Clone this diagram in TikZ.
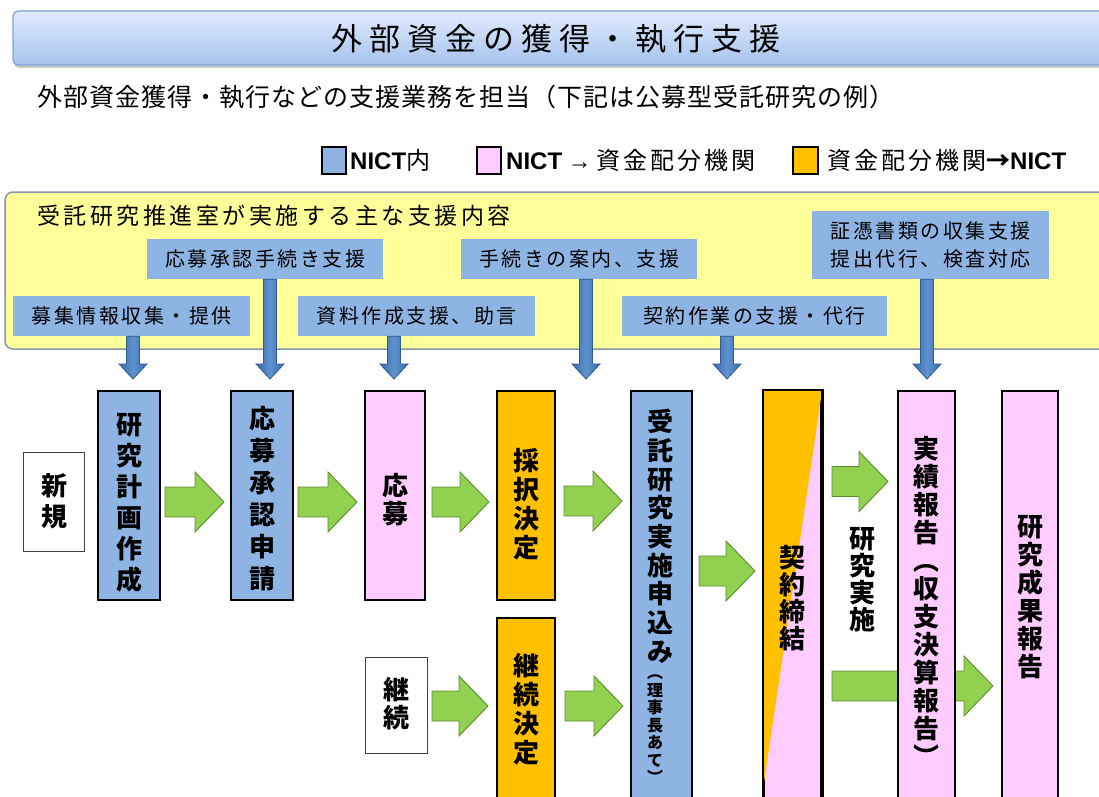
\documentclass[tikz,border=0pt]{standalone}
\usepackage{fontspec}
\setmainfont{Noto Sans CJK JP}
\newfontfamily\arialf{Liberation Sans}
\usetikzlibrary{calc,shadows}
\ExplSyntaxOn
\NewDocumentCommand{\spc}{mm}{\tl_map_inline:nn {#2}{##1\hskip #1\relax}\unskip}
\ExplSyntaxOff
\definecolor{nblue}{HTML}{8EB4E3}
\definecolor{npink}{HTML}{FFCCFF}
\definecolor{norange}{HTML}{FFC000}
\definecolor{nyellow}{HTML}{FFFF99}
\definecolor{ngreen}{HTML}{92D050}
\definecolor{ngreenline}{HTML}{5E8C31}
\definecolor{arrbluedark}{HTML}{3A6AA6}
\definecolor{arrblueedge}{HTML}{2F5C8F}
\definecolor{arrbluelight}{HTML}{5F92D2}
\definecolor{paneledge}{HTML}{8497B0}
\definecolor{titletop}{HTML}{E1ECFB}
\definecolor{titlebot}{HTML}{A6C3EE}
\definecolor{titleedge}{HTML}{7FA3D7}
\newcommand\garrow[2]{\draw[greenarr] let \p1=(#1), \p2=(#2) in
  (\x1,\y1+15pt) -- (\x2-29pt,\y1+15pt) -- (\x2-29pt,\y1+30pt) -- (\x2,\y1) --
  (\x2-29pt,\y1-30pt) -- (\x2-29pt,\y1-15pt) -- (\x1,\y1-15pt) -- cycle;}
\newcommand\barrow[2]{\draw[bluearr] let \p1=(#1), \p2=(#2) in
  (\x1-6.5pt,\y1) -- (\x1-6.5pt,\y2+15pt) -- (\x1-14pt,\y2+15pt) -- (\x2,\y2) --
  (\x1+14pt,\y2+15pt) -- (\x1+6.5pt,\y2+15pt) -- (\x1+6.5pt,\y1) -- cycle;}
\begin{document}
\begin{tikzpicture}[x=1pt,y=-1pt,
  procbox/.style={draw=black, line width=2.5pt, inner sep=0pt},
  whitebox/.style={draw=black!75, line width=1pt, fill=white, inner sep=0pt},
  lbl/.style={fill=nblue, inner sep=0pt, font=\fontsize{20}{28}\selectfont, align=center},
  vtext/.style={font=\fontsize{26}{#1}\selectfont\bfseries, align=center, inner sep=0pt, anchor=north},
  greenarr/.style={fill=ngreen, draw=ngreenline, line width=0.9pt},
  bluearr/.style={left color=arrbluedark, right color=arrbluedark, middle color=arrbluelight, draw=arrblueedge, line width=0.8pt},
  legsq/.style={draw=black, line width=2pt, minimum width=24pt, minimum height=27pt, inner sep=0pt},
  legtxt/.style={anchor=west, inner sep=0pt, font=\fontsize{24}{24}\selectfont}]
\useasboundingbox (0,0) rectangle (1099,796);
\clip (0,0) rectangle (1099,796);
\fill[white] (0,0) rectangle (1099,796);

% title banner
\node[draw=titleedge, line width=1.2pt, top color=titletop, bottom color=titlebot,
  rounded corners=5pt, minimum width=1097pt, minimum height=54pt, inner sep=0pt,
  drop shadow={shadow xshift=1pt, shadow yshift=-3pt, opacity=0.35, fill=black!60}]
  (banner) at (561.5,38) {};
\node[anchor=west, inner sep=0pt, font=\fontsize{31}{31}\selectfont] (title) at (331,39)
  {\spc{7pt}{外部資金の獲得・執行支援}};

% subtitle
\node[anchor=west, inner sep=0pt, font=\fontsize{25}{25}\selectfont] (subtitle) at (37,97)
  {\spc{1pt}{外部資金獲得・執行などの支援業務を担当（下記は公募型受託研究の例）}};

% legend
\node[legsq, fill=nblue] (lgb) at (334,160.5) {};
\node[legtxt] (lgbt) at (350,160) {{\arialf\bfseries NICT}内};
\node[legsq, fill=npink] (lgp) at (489,160.5) {};
\node[legtxt] (lgpt) at (506,160) {{\arialf\bfseries NICT} {\arialf →} \spc{3pt}{資金配分機関}};
\node[legsq, fill=norange, minimum width=25pt] (lgo) at (805.5,160.5) {};
\node[legtxt] (lgot) at (827,160) {\spc{3pt}{資金配分機関}{\bfseries →}{\arialf\bfseries NICT}};

% support panel
\node[draw=paneledge, line width=1.5pt, fill=nyellow, rounded corners=8pt,
  minimum width=1105pt, minimum height=157pt, inner sep=0pt] (panel) at (557.5,270.5) {};
\node[anchor=west, inner sep=0pt, font=\fontsize{23}{23}\selectfont] (paneltitle) at (37,216)
  {\spc{3.5pt}{受託研究推進室が実施する主な支援内容}};

\node[lbl, minimum width=237pt, minimum height=40pt] (L1) at (131.5,316) {\spc{2.5pt}{募集情報収集・提供}};
\node[lbl, minimum width=236pt, minimum height=40pt] (L2) at (265,259) {\spc{2.5pt}{応募承認手続き支援}};
\node[lbl, minimum width=237pt, minimum height=40pt] (L3) at (416.5,316) {\spc{2.5pt}{資料作成支援、助言}};
\node[lbl, minimum width=236pt, minimum height=40pt] (L4) at (579,259) {\spc{2.5pt}{手続きの案内、支援}};
\node[lbl, minimum width=265pt, minimum height=40pt] (L5) at (754.5,316) {\spc{2.5pt}{契約作業の支援・代行}};
\node[lbl, minimum width=237pt, minimum height=68pt] (L6) at (930.5,245)
  {\spc{2.5pt}{証憑書類の収集支援}\\\spc{2.5pt}{提出代行、検査対応}};

% blue down arrows
\coordinate (t1) at (133,379);
\coordinate (t2) at (270,379);
\coordinate (t3) at (394,379);
\coordinate (t4) at (586,379);
\coordinate (t5) at (727,379);
\coordinate (t6) at (927,379);
\coordinate (s1) at (L1.south -| t1);
\coordinate (s2) at (L2.south -| t2);
\coordinate (s3) at (L3.south -| t3);
\coordinate (s4) at (L4.south -| t4);
\coordinate (s5) at (L5.south -| t5);
\coordinate (s6) at (L6.south -| t6);
\barrow{s1}{t1}
\barrow{s2}{t2}
\barrow{s3}{t3}
\barrow{s4}{t4}
\barrow{s5}{t5}
\barrow{s6}{t6}

% process boxes
\node[whitebox, minimum width=61pt, minimum height=99pt] (W1) at (53.5,501.5) {};
\node[procbox, fill=nblue, minimum width=62pt, minimum height=209pt] (B1) at (129,495.5) {};
\node[procbox, fill=nblue, minimum width=62pt, minimum height=209pt] (B2) at (262,495.5) {};
\node[procbox, fill=npink, minimum width=60pt, minimum height=209pt] (B3) at (395,495.5) {};
\node[procbox, fill=norange, minimum width=58pt, minimum height=209pt] (B4) at (526,495.5) {};
\node[whitebox, minimum width=62pt, minimum height=96pt] (W2) at (396,705) {};
\node[procbox, fill=norange, minimum width=58pt, minimum height=192pt] (B5) at (526,714) {};
\node[procbox, fill=nblue, minimum width=61pt, minimum height=419pt] (B6) at (661.5,600.5) {};
\node[procbox, fill=npink, minimum width=57pt, minimum height=419pt] (B7) at (792.5,600.5) {};
\fill[norange] (B7.north west) -- (B7.north east) -- ($(B7.north west)+(0,401)$) -- cycle;
\draw[line width=2.5pt] (B7.north west) rectangle (B7.south east);

% long lower arrow (behind B8)
\coordinate (g9a) at (832,686);
\coordinate (g9b) at (993,686);
\garrow{g9a}{g9b}
\node[procbox, fill=npink, minimum width=57pt, minimum height=419pt] (B8) at (926.5,600.5) {};
\node[procbox, fill=npink, minimum width=56pt, minimum height=419pt] (B9) at (1030,600.5) {};

% green arrows
\coordinate (g1a) at (165,502); \coordinate (g1b) at (224,502);
\coordinate (g2a) at (298,502); \coordinate (g2b) at (357,502);
\coordinate (g3a) at (432,502); \coordinate (g3b) at (489,502);
\coordinate (g4a) at (564,501); \coordinate (g4b) at (622,501);
\coordinate (g5a) at (699,571); \coordinate (g5b) at (755,571);
\coordinate (g6a) at (832,481.5); \coordinate (g6b) at (888,481.5);
\coordinate (g7a) at (432,706); \coordinate (g7b) at (488,706);
\coordinate (g8a) at (565,706); \coordinate (g8b) at (623,706);
\garrow{g1a}{g1b}
\garrow{g2a}{g2b}
\garrow{g3a}{g3b}
\garrow{g4a}{g4b}
\garrow{g5a}{g5b}
\garrow{g6a}{g6b}
\garrow{g7a}{g7b}
\garrow{g8a}{g8b}

% vertical texts
\node[vtext=31] (v5) at (54,473) {新\\規};
\node[vtext=31] (v1) at (129,413) {研\\究\\計\\画\\作\\成};
\node[vtext=32] (v2) at (262,406) {応\\募\\承\\認\\申\\請};
\node[vtext=28] (v3) at (395,473) {応\\募};
\node[vtext=29] (v4) at (526,448) {採\\択\\決\\定};
\node[vtext=28] (v12) at (396,677) {継\\続};
\node[vtext=29] (v11) at (526,653) {継\\続\\決\\定};
\node[vtext=28.7] (v6) at (660,409) {受\\託\\研\\究\\実\\施\\申\\込\\み};
\node[vtext=17.5, font=\fontsize{16}{17.5}\selectfont\bfseries] (v6b) at (655,675)
  {︵\\理\\事\\長\\あ\\て\\︶};
\node[vtext=27] (v7) at (792,545) {契\\約\\締\\結};
\node[vtext=27] (v8) at (862,527) {研\\究\\実\\施};
\node[vtext=28] (v9) at (926,436) {実\\績\\報\\告\\︵\\収\\支\\決\\算\\報\\告\\︶};
\node[vtext=28] (v10) at (1030,515) {研\\究\\成\\果\\報\\告};
\end{tikzpicture}
\end{document}
